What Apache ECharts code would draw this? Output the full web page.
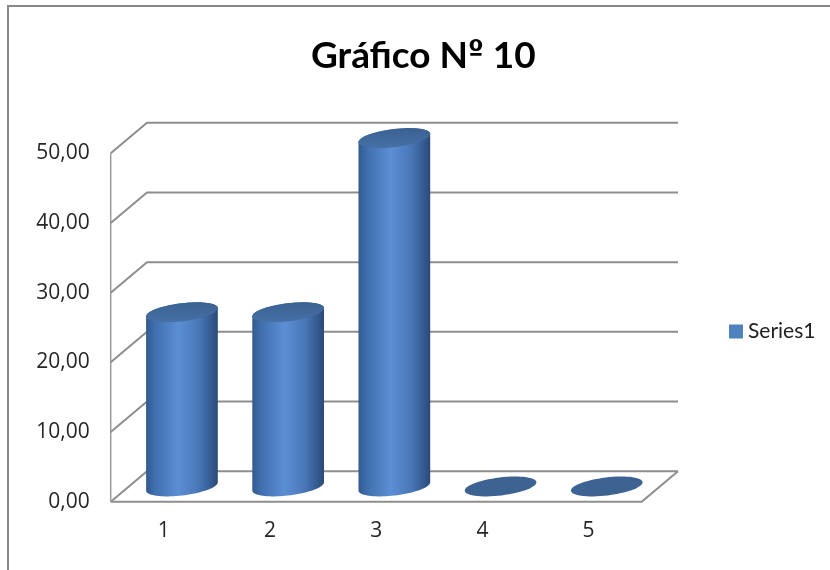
<!DOCTYPE html>
<html>
<head>
<meta charset="utf-8">
<script src="https://cdn.jsdelivr.net/npm/echarts@6/dist/echarts.min.js"></script>
<style>
  html, body { margin: 0; padding: 0; background: #fff; }
  #chart { width: 830px; height: 570px; }
</style>
</head>
<body>
<div id="chart"></div>
<script>
// Chart data
const categories = ['1', '2', '3', '4', '5'];
const values = [25, 25, 50, 0, 0];
const yTicks = [0, 10, 20, 30, 40, 50];
const seriesName = 'Series1';
const titleText = 'Gráfico Nº 10';

// Oblique depth offset of the 3D box (front plane -> back wall)
const DX = 36.3;
const DY = -30.5;
const FONT = 'Lato';
const AXIS_FONT = 'Open Sans';

const chart = echarts.init(document.getElementById('chart'), null, { renderer: 'canvas' });

// Points of a tilted ellipse, sampled between two parameter angles
function ellipseArc(cx, cy, a, b, th, t1, t2, n) {
  const pts = [];
  const c = Math.cos(th), s = Math.sin(th);
  for (let k = 0; k <= n; k++) {
    const t = t1 + (t2 - t1) * k / n;
    const ex = a * Math.cos(t), ey = b * Math.sin(t);
    pts.push([cx + ex * c - ey * s, cy + ex * s + ey * c]);
  }
  return pts;
}

// Back wall, side wall and floor of the 3D box
function renderWalls(params, api) {
  const cs = params.coordSys;
  const v = api.value(1);
  const y = api.coord([0, v])[1];
  const left = cs.x, right = cs.x + cs.width;
  const lineStyle = { stroke: '#8e8e8e', lineWidth: 2, fill: null };
  const children = [{
    type: 'polyline',
    shape: { points: [[left, y], [left + DX, y + DY], [right + DX, y + DY]] },
    style: lineStyle
  }];
  if (v === yTicks[0]) {
    const yTop = api.coord([0, yTicks[yTicks.length - 1]])[1];
    children.push({
      type: 'polyline',
      shape: { points: [[left, y], [right, y], [right + DX, y + DY]] },
      style: lineStyle
    });
    children.push({
      type: 'line',
      shape: { x1: left, y1: yTop, x2: left, y2: y },
      style: { stroke: '#9a9a9a', lineWidth: 1.5 }
    });
  }
  return { type: 'group', children: children };
}

// Cylinder for one category, placed at mid-depth of the box
function renderCylinder(params, api) {
  const i = api.value(0);
  const v = api.value(1);
  const base = api.coord([i, 0]);
  const top = api.coord([i, v]);
  const a = api.size([1, 0])[0] * 0.34;
  const b = 9;
  const th = -7 * Math.PI / 180;
  const cx = base[0] + DX / 2;
  const cyB = base[1] + DY / 2;
  const cyT = top[1] + DY / 2;
  const capFill = {
    type: 'linear', x: 0, y: 0, x2: 0, y2: 1,
    colorStops: [{ offset: 0, color: '#3b6191' }, { offset: 1, color: '#4670a6' }]
  };
  if (v <= 0) {
    return {
      type: 'polygon',
      shape: { points: ellipseArc(cx, cyB, a, b, th, 0, Math.PI * 2, 60) },
      style: { fill: '#3c6392' }
    };
  }
  const t0 = Math.atan(-b * Math.tan(th) / a);
  const lower = ellipseArc(cx, cyB, a, b, th, t0 + Math.PI, t0, 40);
  const upper = ellipseArc(cx, cyT, a, b, th, t0, t0 - Math.PI, 40);
  const body = lower.concat(upper);
  return {
    type: 'group',
    children: [{
      type: 'polygon',
      shape: { points: body },
      style: {
        fill: {
          type: 'linear', x: 0, y: 0, x2: 1, y2: 0,
          colorStops: [
            { offset: 0, color: '#31598e' },
            { offset: 0.12, color: '#406fae' },
            { offset: 0.45, color: '#5c8ed4' },
            { offset: 0.72, color: '#4a79ba' },
            { offset: 0.9, color: '#355c92' },
            { offset: 1, color: '#2b4976' }
          ]
        }
      }
    }, {
      type: 'polygon',
      shape: { points: ellipseArc(cx, cyT, a, b, th, 0, Math.PI * 2, 60) },
      style: { fill: capFill }
    }]
  };
}

const option = {
  backgroundColor: '#ffffff',
  animation: false,
  title: {
    text: titleText.replace('º', '{o|º}'),
    left: 306,
    top: 33,
    textStyle: {
      fontFamily: FONT, fontWeight: 'bold', fontSize: 37, color: '#000',
      rich: {
        o: { fontFamily: 'DejaVu Sans', fontWeight: 'bold', fontSize: 28, color: '#000', padding: [0, 0, 8, 0] }
      }
    }
  },
  legend: {
    data: [{ name: seriesName, icon: 'rect' }],
    left: 724,
    top: 316,
    itemWidth: 14,
    itemHeight: 14,
    itemGap: 6,
    textStyle: { fontFamily: FONT, fontSize: 21, color: '#222' }
  },
  grid: { left: 110.7, right: 188.3, top: 153.3, bottom: 68.3 },
  xAxis: {
    type: 'category',
    data: categories,
    axisLine: { show: false },
    axisTick: { show: false },
    splitLine: { show: false },
    axisLabel: { margin: 19, fontFamily: AXIS_FONT, fontSize: 21, color: '#262626' }
  },
  yAxis: {
    type: 'value',
    min: yTicks[0],
    max: yTicks[yTicks.length - 1],
    interval: yTicks[1] - yTicks[0],
    axisLine: { show: false },
    axisTick: { show: false },
    splitLine: { show: false },
    axisLabel: {
      margin: 21,
      padding: [5, 0, 0, 0],
      fontFamily: AXIS_FONT, fontSize: 21, color: '#262626',
      formatter: function (v) { return v.toFixed(2).replace('.', ','); }
    }
  },
  graphic: [
    { type: 'line', shape: { x1: 7, y1: 6, x2: 830, y2: 6 }, style: { stroke: '#888', lineWidth: 2 }, silent: true },
    { type: 'line', shape: { x1: 8, y1: 5, x2: 8, y2: 570 }, style: { stroke: '#888', lineWidth: 2 }, silent: true }
  ],
  series: [{
    type: 'custom',
    silent: true,
    clip: false,
    z: 1,
    renderItem: renderWalls,
    encode: { x: 0, y: 1 },
    data: yTicks.map(function (t) { return [0, t]; })
  }, {
    name: seriesName,
    type: 'custom',
    clip: false,
    z: 2,
    itemStyle: { color: '#4f81bd' },
    renderItem: renderCylinder,
    encode: { x: 0, y: 1 },
    data: values.map(function (v, i) { return [i, v]; })
  }]
};

chart.setOption(option);
</script>
</body>
</html>
